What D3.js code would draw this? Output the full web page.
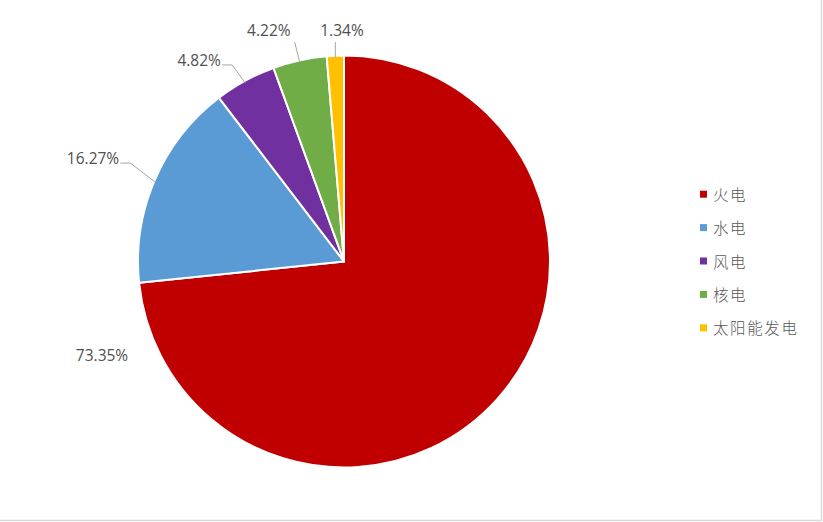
<!DOCTYPE html>
<html><head><meta charset="utf-8">
<script src="https://cdn.jsdelivr.net/npm/d3@7"></script>
<style>html,body{margin:0;padding:0;background:#fff;}svg{display:block;}</style>
</head><body>
<script>
const categories = ["火电", "水电", "风电", "核电", "太阳能发电"];
const values = [73.35, 16.27, 4.82, 4.22, 1.34];
const labels = ["73.35%", "16.27%", "4.82%", "4.22%", "1.34%"];
const colors = ["#C00000", "#5B9BD5", "#7030A0", "#70AD47", "#FFC000"];

const W = 823, H = 522;
const cx = 344, cy = 261.5, R = 206;
// label placement (polar: degrees clockwise from top, radius) — layout only
const labelPolar = [[248.9, 259.4], [292.4, 271.5], [324.3, 248.2], [342.0, 243.3], [359.5, 231.5]];

const svg = d3.select("body").append("svg").attr("width", W).attr("height", H);
svg.append("rect").attr("width", W).attr("height", H).attr("fill", "#fff");
svg.append("line").attr("x1", 821.5).attr("x2", 821.5).attr("y1", 0).attr("y2", 521).attr("stroke", "#d9d9d9").attr("stroke-width", 1.5);
svg.append("line").attr("x1", 0).attr("x2", 822).attr("y1", 520.5).attr("y2", 520.5).attr("stroke", "#d9d9d9").attr("stroke-width", 1.5);

const data = categories.map((c, i) => ({cat: c, value: values[i], label: labels[i], color: colors[i], lp: labelPolar[i]}));
const pie = d3.pie().value(d => d.value).sort(null);
const arcs = pie(data);
const arc = d3.arc().innerRadius(0).outerRadius(R);

const g = svg.append("g").attr("transform", `translate(${cx},${cy})`);
g.selectAll("path").data(arcs).join("path")
  .attr("d", arc).attr("fill", d => d.data.color)
  .attr("stroke", "#fff").attr("stroke-width", 2).attr("stroke-linejoin", "round");

const polar = (deg, r) => [r * Math.sin(deg * Math.PI / 180), -r * Math.cos(deg * Math.PI / 180)];

arcs.forEach((a, i) => {
  const [lx, ly] = polar(a.data.lp[0], a.data.lp[1]);
  const mid = (a.startAngle + a.endAngle) / 2 * 180 / Math.PI;
  const t = g.append("text").attr("x", lx).attr("y", ly)
    .attr("text-anchor", "middle").attr("dominant-baseline", "central")
    .attr("font-family", "'Open Sans', 'Noto Sans', sans-serif").attr("font-size", 15.5)
    .attr("fill", "#505050").text(a.data.label);
  if (i === 0) return;
  const bb = t.node().getBBox();
  const [px, py] = polar(mid, R);
  let pts;
  if (i >= 3) {
    const sx = i === 4 ? px : px - 5;
    pts = [[sx, bb.y + bb.height + 1], [px, py + 2]];
  } else {
    const ex = bb.x + bb.width + 1, ey = ly + 5;
    pts = [[ex, ey], [ex + 10, ey], [px, py + 2]];
  }
  g.append("polyline").attr("points", pts.map(p => p.join(",")).join(" "))
    .attr("fill", "none").attr("stroke", "#a6a6a6").attr("stroke-width", 1);
});

const leg = svg.append("g");
categories.forEach((c, i) => {
  const y = 193.7 + i * 33.4;
  leg.append("rect").attr("x", 700).attr("y", y - 3).attr("width", 7).attr("height", 7).attr("fill", colors[i]);
  leg.append("text").attr("x", 713).attr("y", y).attr("dominant-baseline", "central")
    .attr("font-family", "'Noto Sans CJK SC', sans-serif").attr("font-size", 15.5).attr("font-weight", 300)
    .attr("letter-spacing", 1.6).attr("fill", "#595959").text(c);
});
</script>
</body></html>
